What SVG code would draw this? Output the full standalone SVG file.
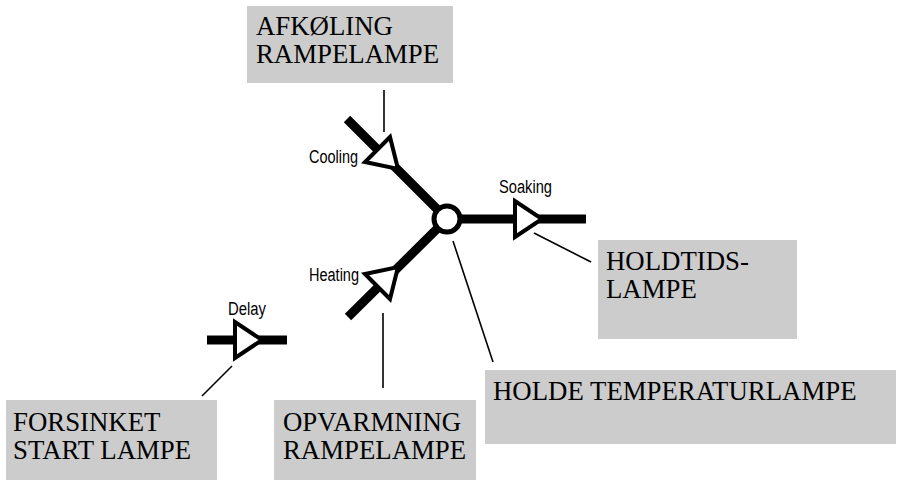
<svg xmlns="http://www.w3.org/2000/svg" width="899" height="480" viewBox="0 0 899 480">
<style>
.box{fill:#cccccc}
.lbl{font-family:"Liberation Serif","Times New Roman",serif;font-size:26.8px;fill:#000}
.sm{font-family:"Liberation Sans",Arial,sans-serif;font-size:18px;fill:#000}
.thick{stroke:#000;stroke-width:9;fill:none}
.tri{fill:#fff;stroke:#000;stroke-width:4;stroke-linejoin:miter}
.call{stroke:#000;stroke-width:1.6;fill:none}
</style>
<rect width="899" height="480" fill="#fff"/>
<g id="connectors">
<line class="thick" x1="347" y1="119" x2="447" y2="219"/>
<line class="thick" x1="348" y1="317" x2="447" y2="219"/>
<line class="thick" x1="447" y1="219" x2="586" y2="219"/>
<line class="thick" x1="207" y1="340" x2="287" y2="340"/>
<line class="call" x1="384" y1="90" x2="384" y2="132"/>
<line class="call" x1="534" y1="233" x2="591" y2="262"/>
<line class="call" x1="383" y1="313" x2="383" y2="388"/>
<line class="call" x1="453" y1="241" x2="493" y2="362"/>
<line class="call" x1="232" y1="366" x2="202" y2="396"/>
</g>
<g id="cooling-arrow">
<polygon class="tri" points="390,137 365,162 398,169"/>
<text class="sm" x="358" y="163" text-anchor="end" textLength="49" lengthAdjust="spacingAndGlyphs">Cooling</text>
</g>
<g id="heating-arrow">
<polygon class="tri" points="365,274 390,299 398,267"/>
<text class="sm" x="359" y="281" text-anchor="end" textLength="50" lengthAdjust="spacingAndGlyphs">Heating</text>
</g>
<g id="soaking-arrow">
<polygon class="tri" points="515,201 515,237 542,219"/>
<text class="sm" x="499" y="193" textLength="53" lengthAdjust="spacingAndGlyphs">Soaking</text>
</g>
<g id="delay-arrow">
<polygon class="tri" points="235,322 235,358 262,340"/>
<text class="sm" x="228" y="315" textLength="38" lengthAdjust="spacingAndGlyphs">Delay</text>
</g>
<g id="hub">
<circle cx="447" cy="219" r="13" fill="#fff" stroke="#000" stroke-width="5"/>
</g>
<g id="afkoling">
<rect class="box" x="247" y="6" width="206" height="77"/>
<text class="lbl"><tspan x="256" y="35">AFKØLING</tspan><tspan x="256" y="63">RAMPELAMPE</tspan></text>
</g>
<g id="holdtids">
<rect class="box" x="598" y="240" width="199" height="99"/>
<text class="lbl"><tspan x="606" y="270">HOLDTIDS-</tspan><tspan x="606" y="298">LAMPE</tspan></text>
</g>
<g id="holde">
<rect class="box" x="485" y="370" width="411" height="74"/>
<text class="lbl" x="493" y="400">HOLDE TEMPERATURLAMPE</text>
</g>
<g id="forsinket">
<rect class="box" x="6" y="400" width="211" height="80"/>
<text class="lbl"><tspan x="13" y="431">FORSINKET</tspan><tspan x="13" y="459">START LAMPE</tspan></text>
</g>
<g id="opvarmning">
<rect class="box" x="274" y="400" width="202" height="80"/>
<text class="lbl"><tspan x="283" y="431">OPVARMNING</tspan><tspan x="283" y="459">RAMPELAMPE</tspan></text>
</g>
</svg>
